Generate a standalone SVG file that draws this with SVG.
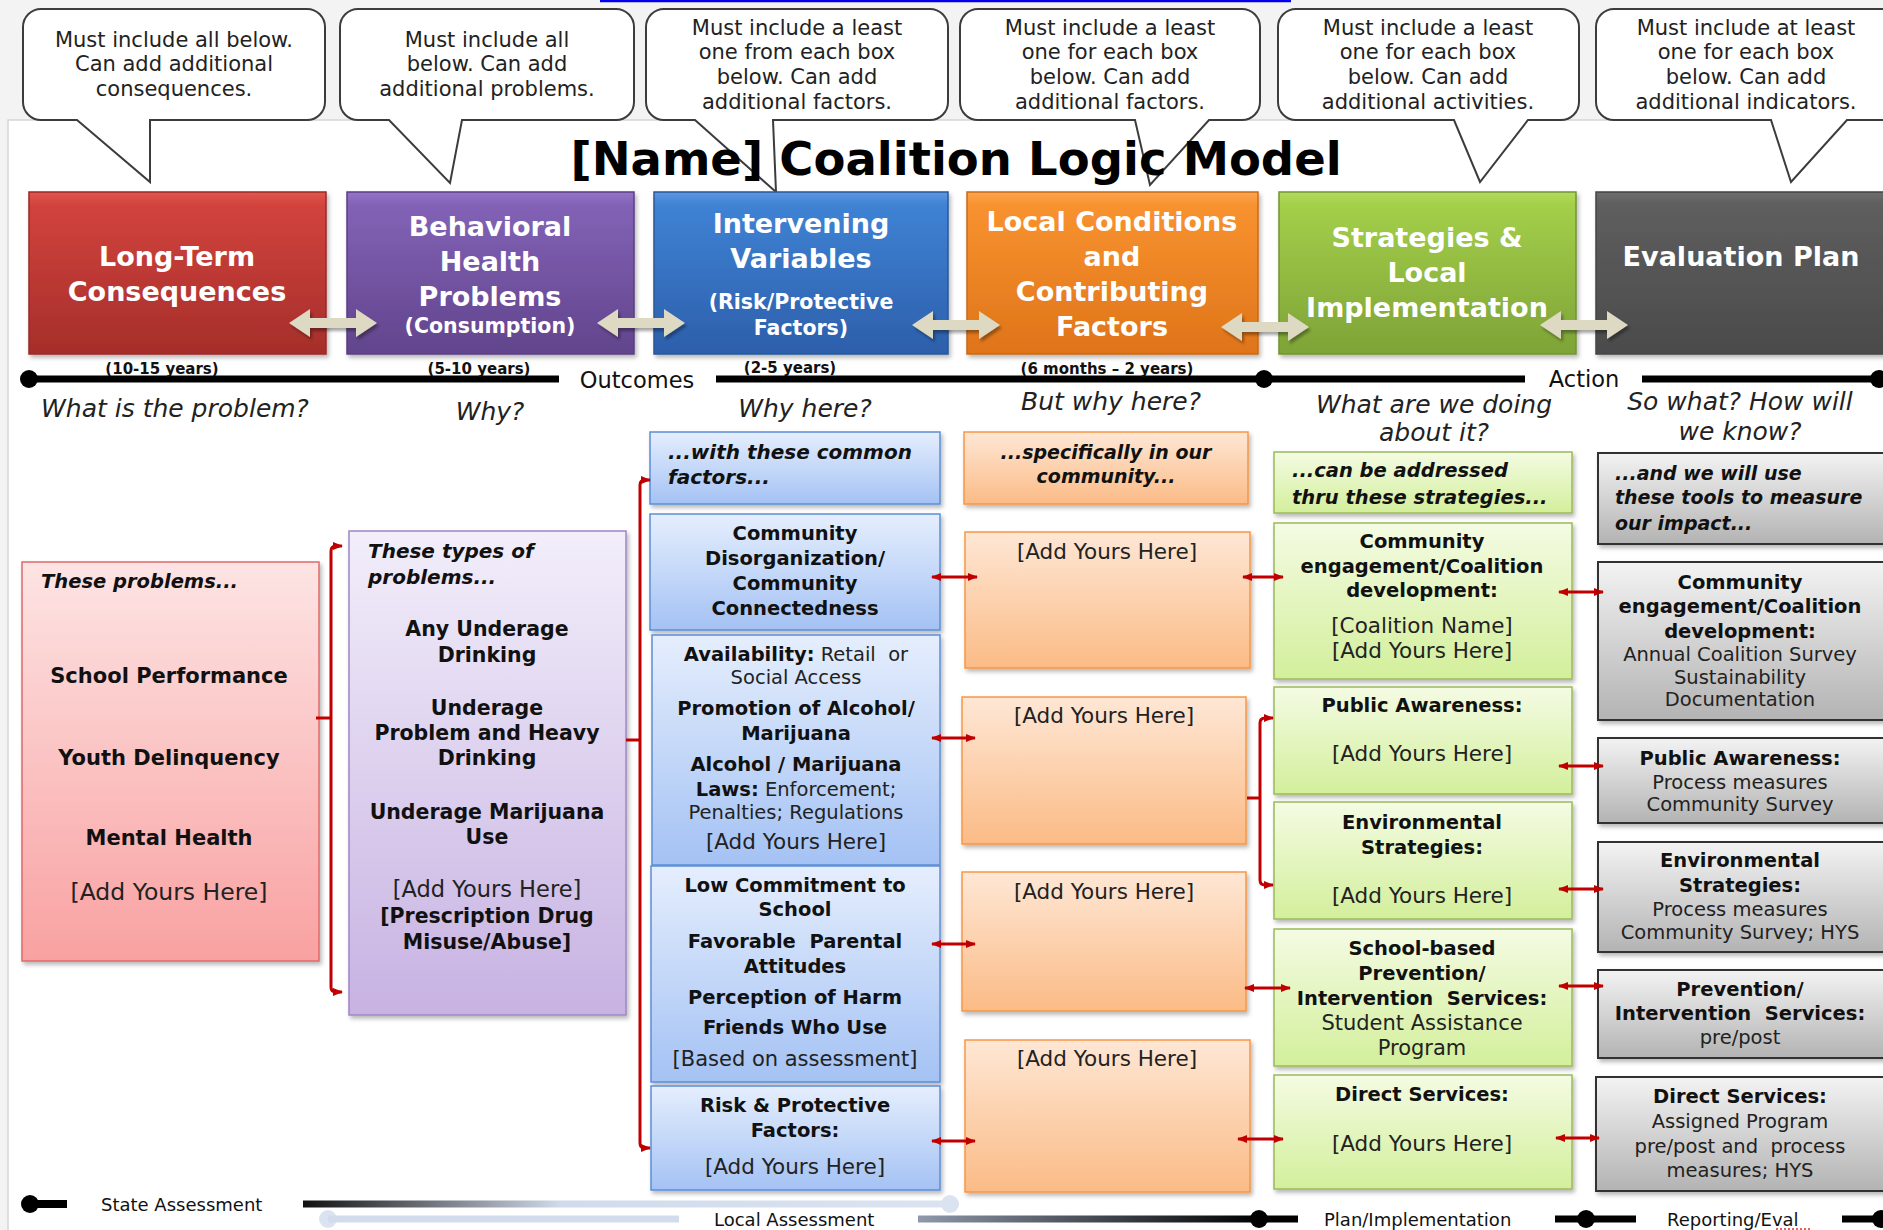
<svg xmlns="http://www.w3.org/2000/svg" width="1883" height="1230" viewBox="0 0 1883 1230">
<defs>
<style>
text{font-family:"DejaVu Sans","Liberation Sans",sans-serif;fill:#111}
.co{font-size:21px;text-anchor:middle;fill:#222}
.ti{font-size:46.5px;font-weight:bold;text-anchor:middle;fill:#000}
.hd{font-size:27px;font-weight:bold;text-anchor:middle;fill:#fff}
.hs{font-size:20.5px}
.yr{font-size:15px;font-weight:bold;text-anchor:middle;fill:#111}
.tl{font-size:22.5px;text-anchor:middle;fill:#111}
.q{font-size:25px;font-style:italic;text-anchor:middle;fill:#222}
.b{font-size:19.5px;font-weight:bold;text-anchor:middle}
.r{font-size:21px;text-anchor:middle;fill:#222}
.ay{font-size:21.5px}
.s{font-size:19.5px;text-anchor:middle;fill:#222}
.bi{font-size:19.5px;font-weight:bold;font-style:italic}
.bt{font-size:18px;fill:#111}
.n{font-weight:normal;fill:#222;font-size:19.5px}
.box{filter:url(#sh)}
.conn{stroke:#c00000;stroke-width:3;fill:none}
.dbl{marker-start:url(#ah);marker-end:url(#ah)}
.callout{fill:#fff;stroke:#3c3c3c;stroke-width:2}
</style>
<filter id="sh" x="-10%" y="-10%" width="125%" height="130%"><feDropShadow dx="2" dy="3" stdDeviation="2" flood-color="#000" flood-opacity="0.28"/></filter>
<filter id="sh2" x="-20%" y="-40%" width="140%" height="190%"><feDropShadow dx="2" dy="3" stdDeviation="1.5" flood-color="#000" flood-opacity="0.35"/></filter>
<marker id="ah" viewBox="0 0 10 10" refX="9" refY="5" markerWidth="10" markerHeight="10" markerUnits="userSpaceOnUse" orient="auto-start-reverse"><path d="M0,1 L10,5 L0,9 Z" fill="#c00000"/></marker>
<path id="barrow" d="M-44,0 L-23,-14 L-23,-5 L23,-5 L23,-14 L44,0 L23,14 L23,5 L-23,5 L-23,14 Z"/>
<linearGradient id="gRed" x1="0" y1="0" x2="0" y2="1"><stop offset="0" stop-color="#e0574f"/><stop offset="0.08" stop-color="#d2433d"/><stop offset="1" stop-color="#a52e2a"/></linearGradient>
<linearGradient id="gPur" x1="0" y1="0" x2="0" y2="1"><stop offset="0" stop-color="#9574c8"/><stop offset="0.08" stop-color="#8262b6"/><stop offset="1" stop-color="#62448c"/></linearGradient>
<linearGradient id="gBlu" x1="0" y1="0" x2="0" y2="1"><stop offset="0" stop-color="#5b98e0"/><stop offset="0.08" stop-color="#3f82d4"/><stop offset="1" stop-color="#2c5fab"/></linearGradient>
<linearGradient id="gOra" x1="0" y1="0" x2="0" y2="1"><stop offset="0" stop-color="#fba54e"/><stop offset="0.08" stop-color="#f8922f"/><stop offset="1" stop-color="#df7419"/></linearGradient>
<linearGradient id="gGrn" x1="0" y1="0" x2="0" y2="1"><stop offset="0" stop-color="#b2da5c"/><stop offset="0.08" stop-color="#a3cf4a"/><stop offset="1" stop-color="#7ea337"/></linearGradient>
<linearGradient id="gGry" x1="0" y1="0" x2="0" y2="1"><stop offset="0" stop-color="#6e6e6e"/><stop offset="0.08" stop-color="#5e5e5e"/><stop offset="1" stop-color="#4b4b4b"/></linearGradient>
<linearGradient id="lPink" x1="0" y1="0" x2="0" y2="1"><stop offset="0" stop-color="#fde4e4"/><stop offset="1" stop-color="#f9a1a1"/></linearGradient>
<linearGradient id="lPur" x1="0" y1="0" x2="0" y2="1"><stop offset="0" stop-color="#f2eefa"/><stop offset="1" stop-color="#c7b2e2"/></linearGradient>
<linearGradient id="lBlu" x1="0" y1="0" x2="0" y2="1"><stop offset="0" stop-color="#e5eefd"/><stop offset="1" stop-color="#a4c2f4"/></linearGradient>
<linearGradient id="lOra" x1="0" y1="0" x2="0" y2="1"><stop offset="0" stop-color="#fee7d5"/><stop offset="1" stop-color="#fbbb86"/></linearGradient>
<linearGradient id="lGrn" x1="0" y1="0" x2="0" y2="1"><stop offset="0" stop-color="#f4fbe3"/><stop offset="1" stop-color="#d3ef9b"/></linearGradient>
<linearGradient id="lGry" x1="0" y1="0" x2="0" y2="1"><stop offset="0" stop-color="#f3f3f3"/><stop offset="1" stop-color="#b3b3b3"/></linearGradient>
<linearGradient id="tg1" gradientUnits="userSpaceOnUse" x1="303" y1="0" x2="950" y2="0"><stop offset="0" stop-color="#111"/><stop offset="0.4" stop-color="#d1dbeb"/><stop offset="1" stop-color="#dbe3f1"/></linearGradient>
<linearGradient id="tg2" gradientUnits="userSpaceOnUse" x1="918" y1="0" x2="1259" y2="0"><stop offset="0" stop-color="#8f99ab"/><stop offset="1" stop-color="#000"/></linearGradient>
</defs>

<rect x="0" y="0" width="1883" height="1230" fill="#f3f3f3"/>
<rect x="8" y="120" width="1890" height="1120" fill="#fff" stroke="#d6d6d6" stroke-width="1.5"/>
<line x1="600" y1="1" x2="1291" y2="1" stroke="#0000ee" stroke-width="2.5"/>

<g id="callouts">
<g id="callout1"><path class="callout" d="M41,9 H307 A18,18 0 0 1 325,27 V102 A18,18 0 0 1 307,120 H150 L150,182 L77,120 H41 A18,18 0 0 1 23,102 V27 A18,18 0 0 1 41,9 Z"/>
<text class="co"><tspan x="174" y="47">Must include all below.</tspan><tspan x="174" y="71">Can add additional</tspan><tspan x="174" y="96">consequences.</tspan></text></g>
<g id="callout2"><path class="callout" d="M358,9 H616 A18,18 0 0 1 634,27 V102 A18,18 0 0 1 616,120 H462 L450,183 L389,120 H358 A18,18 0 0 1 340,102 V27 A18,18 0 0 1 358,9 Z"/>
<text class="co"><tspan x="487" y="47">Must include all</tspan><tspan x="487" y="71">below. Can add</tspan><tspan x="487" y="96">additional problems.</tspan></text></g>
<g id="callout3"><path class="callout" d="M664,9 H930 A18,18 0 0 1 948,27 V102 A18,18 0 0 1 930,120 H773 L776,192 L695,120 H664 A18,18 0 0 1 646,102 V27 A18,18 0 0 1 664,9 Z"/>
<text class="co"><tspan x="797" y="35">Must include a least</tspan><tspan x="797" y="59">one from each box</tspan><tspan x="797" y="84">below. Can add</tspan><tspan x="797" y="109">additional factors.</tspan></text></g>
<g id="callout4"><path class="callout" d="M978,9 H1242 A18,18 0 0 1 1260,27 V102 A18,18 0 0 1 1242,120 H1209 L1150,185 L1135,120 H978 A18,18 0 0 1 960,102 V27 A18,18 0 0 1 978,9 Z"/>
<text class="co"><tspan x="1110" y="35">Must include a least</tspan><tspan x="1110" y="59">one for each box</tspan><tspan x="1110" y="84">below. Can add</tspan><tspan x="1110" y="109">additional factors.</tspan></text></g>
<g id="callout5"><path class="callout" d="M1296,9 H1561 A18,18 0 0 1 1579,27 V102 A18,18 0 0 1 1561,120 H1528 L1480,182 L1454,120 H1296 A18,18 0 0 1 1278,102 V27 A18,18 0 0 1 1296,9 Z"/>
<text class="co"><tspan x="1428" y="35">Must include a least</tspan><tspan x="1428" y="59">one for each box</tspan><tspan x="1428" y="84">below. Can add</tspan><tspan x="1428" y="109">additional activities.</tspan></text></g>
<g id="callout6"><path class="callout" d="M1614,9 H1887 A18,18 0 0 1 1905,27 V102 A18,18 0 0 1 1887,120 H1847 L1791,182 L1771,120 H1614 A18,18 0 0 1 1596,102 V27 A18,18 0 0 1 1614,9 Z"/>
<text class="co"><tspan x="1746" y="35">Must include at least</tspan><tspan x="1746" y="59">one for each box</tspan><tspan x="1746" y="84">below. Can add</tspan><tspan x="1746" y="109">additional indicators.</tspan></text></g>
</g>

<text id="title" class="ti" x="956" y="175">[Name] Coalition Logic Model</text>

<g id="headers">
<g id="h-consequences"><rect class="box" x="29" y="192" width="297" height="162" fill="url(#gRed)" stroke="#9a2a26" stroke-width="1.5"/>
<text class="hd"><tspan x="177" y="266">Long-Term</tspan><tspan x="177" y="301">Consequences</tspan></text></g>
<g id="h-problems"><rect class="box" x="347" y="192" width="287" height="162" fill="url(#gPur)" stroke="#5a3f82" stroke-width="1.5"/>
<text class="hd"><tspan x="490" y="236">Behavioral</tspan><tspan x="490" y="271">Health</tspan><tspan x="490" y="306">Problems</tspan><tspan class="hs" x="490" y="333">(Consumption)</tspan></text></g>
<g id="h-intervening"><rect class="box" x="654" y="192" width="294" height="162" fill="url(#gBlu)" stroke="#2a579a" stroke-width="1.5"/>
<text class="hd"><tspan x="801" y="233">Intervening</tspan><tspan x="801" y="268">Variables</tspan><tspan class="hs" x="801" y="309">(Risk/Protective</tspan><tspan class="hs" x="801" y="335">Factors)</tspan></text></g>
<g id="h-local"><rect class="box" x="967" y="192" width="291" height="162" fill="url(#gOra)" stroke="#c96a18" stroke-width="1.5"/>
<text class="hd"><tspan x="1112" y="231">Local Conditions</tspan><tspan x="1112" y="266">and</tspan><tspan x="1112" y="301">Contributing</tspan><tspan x="1112" y="336">Factors</tspan></text></g>
<g id="h-strategies"><rect class="box" x="1279" y="192" width="297" height="162" fill="url(#gGrn)" stroke="#729532" stroke-width="1.5"/>
<text class="hd"><tspan x="1427" y="247">Strategies &amp;</tspan><tspan x="1427" y="282">Local</tspan><tspan x="1427" y="317">Implementation</tspan></text></g>
<g id="h-evaluation"><rect class="box" x="1596" y="192" width="300" height="162" fill="url(#gGry)" stroke="#444" stroke-width="1.5"/>
<text class="hd" x="1741" y="266">Evaluation Plan</text></g>
</g>

<g id="header-arrows" fill="#ddd9c3" filter="url(#sh2)">
<use href="#barrow" x="333" y="323"/>
<use href="#barrow" x="641" y="323"/>
<use href="#barrow" x="956" y="325"/>
<use href="#barrow" x="1265" y="327"/>
<use href="#barrow" x="1584" y="325"/>
</g>

<g id="timeline-top">
<line x1="29" y1="379" x2="559" y2="379" stroke="#000" stroke-width="7"/>
<line x1="716" y1="379" x2="1525" y2="379" stroke="#000" stroke-width="7"/>
<line x1="1642" y1="379" x2="1883" y2="379" stroke="#000" stroke-width="7"/>
<circle cx="29" cy="379" r="9" fill="#000"/>
<circle cx="1264" cy="379" r="9" fill="#000"/>
<circle cx="1879" cy="379" r="9" fill="#000"/>
<text class="tl" x="637" y="388">Outcomes</text>
<text class="tl" x="1584" y="387">Action</text>
<text class="yr" x="162" y="374">(10-15 years)</text>
<text class="yr" x="479" y="374">(5-10 years)</text>
<text class="yr" x="790" y="373">(2-5 years)</text>
<text class="yr" x="1107" y="374">(6 months – 2 years)</text>
</g>

<g id="questions">
<text class="q" x="175" y="417">What is the problem?</text>
<text class="q" x="490" y="420">Why?</text>
<text class="q" x="805" y="417">Why here?</text>
<text class="q" x="1111" y="410">But why here?</text>
<text class="q"><tspan x="1434" y="413">What are we doing</tspan><tspan x="1434" y="441">about it?</tspan></text>
<text class="q"><tspan x="1740" y="410">So what? How will</tspan><tspan x="1740" y="440">we know?</tspan></text>
</g>

<g id="consequences">
<rect class="box" x="22" y="562" width="297" height="399" fill="url(#lPink)" stroke="#e06a6a" stroke-width="1.5"/>
<text class="bi" x="41" y="588">These problems...</text>
<text class="b" style="font-size:21px"><tspan x="169" y="683">School Performance</tspan><tspan x="169" y="765">Youth Delinquency</tspan><tspan x="169" y="845">Mental Health</tspan></text>
<text class="r" style="font-size:23.5px" x="169" y="900">[Add Yours Here]</text>
</g>

<g id="problems">
<rect class="box" x="349" y="531" width="277" height="484" fill="url(#lPur)" stroke="#9d87c6" stroke-width="1.5"/>
<text class="bi" style="font-size:20px"><tspan x="368" y="558">These types of</tspan><tspan x="368" y="584">problems...</tspan></text>
<text class="b" style="font-size:20.5px"><tspan x="487" y="636">Any Underage</tspan><tspan x="487" y="662">Drinking</tspan><tspan x="487" y="715">Underage</tspan><tspan x="487" y="740">Problem and Heavy</tspan><tspan x="487" y="765">Drinking</tspan><tspan x="487" y="819">Underage Marijuana</tspan><tspan x="487" y="844">Use</tspan></text>
<text class="r" style="font-size:22.5px" x="487" y="897">[Add Yours Here]</text>
<text class="b" style="font-size:20.5px"><tspan x="487" y="923">[Prescription Drug</tspan><tspan x="487" y="949">Misuse/Abuse]</tspan></text>
</g>

<g id="factors-head">
<rect class="box" x="650" y="432" width="290" height="72" fill="url(#lBlu)" stroke="#5b8fd6" stroke-width="1.5"/>
<text class="bi" style="font-size:20px"><tspan x="668" y="459">...with these common</tspan><tspan x="668" y="484">factors...</tspan></text>
</g>
<g id="factor-community">
<rect class="box" x="650" y="514" width="290" height="116" fill="url(#lBlu)" stroke="#5b8fd6" stroke-width="1.5"/>
<text class="b"><tspan x="795" y="540">Community</tspan><tspan x="795" y="565">Disorganization/</tspan><tspan x="795" y="590">Community</tspan><tspan x="795" y="615">Connectedness</tspan></text>
</g>
<g id="factor-availability">
<rect class="box" x="652" y="635" width="288" height="230" fill="url(#lBlu)" stroke="#5b8fd6" stroke-width="1.5"/>
<text class="b" xml:space="preserve" x="796" y="661">Availability:<tspan class="n"> Retail  or</tspan></text>
<text class="s" x="796" y="684">Social Access</text>
<text class="b"><tspan x="796" y="715">Promotion of Alcohol/</tspan><tspan x="796" y="740">Marijuana</tspan><tspan x="796" y="771">Alcohol / Marijuana</tspan></text>
<text class="b" x="796" y="796">Laws:<tspan class="n"> Enforcement;</tspan></text>
<text class="s" x="796" y="819">Penalties; Regulations</text>
<text class="r ay" x="796" y="849">[Add Yours Here]</text>
</g>
<g id="factor-school">
<rect class="box" x="651" y="866" width="289" height="216" fill="url(#lBlu)" stroke="#5b8fd6" stroke-width="1.5"/>
<text class="b" xml:space="preserve"><tspan x="795" y="892">Low Commitment to</tspan><tspan x="795" y="916">School</tspan><tspan x="795" y="948">Favorable  Parental</tspan><tspan x="795" y="973">Attitudes</tspan><tspan x="795" y="1004">Perception of Harm</tspan><tspan x="795" y="1034">Friends Who Use</tspan></text>
<text class="r" x="795" y="1066">[Based on assessment]</text>
</g>
<g id="factor-risk">
<rect class="box" x="651" y="1086" width="289" height="104" fill="url(#lBlu)" stroke="#5b8fd6" stroke-width="1.5"/>
<text class="b"><tspan x="795" y="1112">Risk &amp; Protective</tspan><tspan x="795" y="1137">Factors:</tspan></text>
<text class="r ay" x="795" y="1174">[Add Yours Here]</text>
</g>

<g id="local-head">
<rect class="box" x="964" y="432" width="284" height="72" fill="url(#lOra)" stroke="#f79646" stroke-width="1.5"/>
<text class="bi" style="font-size:19px;text-anchor:middle"><tspan x="1106" y="459">...specifically in our</tspan><tspan x="1106" y="483">community...</tspan></text>
</g>
<g id="local-1"><rect class="box" x="965" y="532" width="285" height="136" fill="url(#lOra)" stroke="#f79646" stroke-width="1.5"/><text class="r ay" x="1107" y="559">[Add Yours Here]</text></g>
<g id="local-2"><rect class="box" x="962" y="697" width="284" height="147" fill="url(#lOra)" stroke="#f79646" stroke-width="1.5"/><text class="r ay" x="1104" y="723">[Add Yours Here]</text></g>
<g id="local-3"><rect class="box" x="962" y="872" width="284" height="139" fill="url(#lOra)" stroke="#f79646" stroke-width="1.5"/><text class="r ay" x="1104" y="899">[Add Yours Here]</text></g>
<g id="local-4"><rect class="box" x="965" y="1040" width="285" height="152" fill="url(#lOra)" stroke="#f79646" stroke-width="1.5"/><text class="r ay" x="1107" y="1066">[Add Yours Here]</text></g>

<g id="strategies-head">
<rect class="box" x="1274" y="452" width="298" height="61" fill="url(#lGrn)" stroke="#9bbb59" stroke-width="1.5"/>
<text class="bi"><tspan x="1292" y="477">...can be addressed</tspan><tspan x="1292" y="504">thru these strategies...</tspan></text>
</g>
<g id="strategy-community">
<rect class="box" x="1274" y="523" width="298" height="156" fill="url(#lGrn)" stroke="#9bbb59" stroke-width="1.5"/>
<text class="b"><tspan x="1422" y="548">Community</tspan><tspan x="1422" y="573">engagement/Coalition</tspan><tspan x="1422" y="597">development:</tspan></text>
<text class="r ay"><tspan x="1422" y="633">[Coalition Name]</tspan><tspan x="1422" y="658">[Add Yours Here]</tspan></text>
</g>
<g id="strategy-public">
<rect class="box" x="1274" y="687" width="298" height="107" fill="url(#lGrn)" stroke="#9bbb59" stroke-width="1.5"/>
<text class="b" x="1422" y="712">Public Awareness:</text>
<text class="r ay" x="1422" y="761">[Add Yours Here]</text>
</g>
<g id="strategy-environmental">
<rect class="box" x="1274" y="802" width="298" height="117" fill="url(#lGrn)" stroke="#9bbb59" stroke-width="1.5"/>
<text class="b"><tspan x="1422" y="829">Environmental</tspan><tspan x="1422" y="854">Strategies:</tspan></text>
<text class="r ay" x="1422" y="903">[Add Yours Here]</text>
</g>
<g id="strategy-school">
<rect class="box" x="1274" y="929" width="298" height="137" fill="url(#lGrn)" stroke="#9bbb59" stroke-width="1.5"/>
<text class="b" xml:space="preserve"><tspan x="1422" y="955">School-based</tspan><tspan x="1422" y="980">Prevention/</tspan><tspan x="1422" y="1005">Intervention  Services:</tspan></text>
<text class="r"><tspan x="1422" y="1030">Student Assistance</tspan><tspan x="1422" y="1055">Program</tspan></text>
</g>
<g id="strategy-direct">
<rect class="box" x="1274" y="1075" width="298" height="114" fill="url(#lGrn)" stroke="#9bbb59" stroke-width="1.5"/>
<text class="b" x="1422" y="1101">Direct Services:</text>
<text class="r ay" x="1422" y="1151">[Add Yours Here]</text>
</g>

<g id="eval-head">
<rect class="box" x="1598" y="453" width="290" height="91" fill="url(#lGry)" stroke="#333" stroke-width="2"/>
<text class="bi" style="font-size:19px"><tspan x="1615" y="480">...and we will use</tspan><tspan x="1615" y="504">these tools to measure</tspan><tspan x="1615" y="530">our impact...</tspan></text>
</g>
<g id="eval-community">
<rect class="box" x="1598" y="562" width="290" height="158" fill="url(#lGry)" stroke="#333" stroke-width="2"/>
<text class="b"><tspan x="1740" y="589">Community</tspan><tspan x="1740" y="613">engagement/Coalition</tspan><tspan x="1740" y="638">development:</tspan></text>
<text class="s"><tspan x="1740" y="661">Annual Coalition Survey</tspan><tspan x="1740" y="684">Sustainability</tspan><tspan x="1740" y="706">Documentation</tspan></text>
</g>
<g id="eval-public">
<rect class="box" x="1598" y="738" width="290" height="85" fill="url(#lGry)" stroke="#333" stroke-width="2"/>
<text class="b" x="1740" y="765">Public Awareness:</text>
<text class="s"><tspan x="1740" y="789">Process measures</tspan><tspan x="1740" y="811">Community Survey</tspan></text>
</g>
<g id="eval-environmental">
<rect class="box" x="1598" y="842" width="290" height="110" fill="url(#lGry)" stroke="#333" stroke-width="2"/>
<text class="b"><tspan x="1740" y="867">Environmental</tspan><tspan x="1740" y="892">Strategies:</tspan></text>
<text class="s"><tspan x="1740" y="916">Process measures</tspan><tspan x="1740" y="939">Community Survey; HYS</tspan></text>
</g>
<g id="eval-prevention">
<rect class="box" x="1598" y="970" width="290" height="88" fill="url(#lGry)" stroke="#333" stroke-width="2"/>
<text class="b" xml:space="preserve"><tspan x="1740" y="996">Prevention/</tspan><tspan x="1740" y="1020">Intervention  Services:</tspan></text>
<text class="s" x="1740" y="1044">pre/post</text>
</g>
<g id="eval-direct">
<rect class="box" x="1596" y="1077" width="292" height="114" fill="url(#lGry)" stroke="#333" stroke-width="2"/>
<text class="b" x="1740" y="1103">Direct Services:</text>
<text class="s" xml:space="preserve"><tspan x="1740" y="1128">Assigned Program</tspan><tspan x="1740" y="1153">pre/post and  process</tspan><tspan x="1740" y="1177">measures; HYS</tspan></text>
</g>

<g id="connectors">
<path class="conn" d="M316,718 H331"/>
<path class="conn dbl" d="M342,546 H336 Q331,546 331,551 V987 Q331,992 336,992 H342"/>
<path class="conn" d="M626,740 H640"/>
<path class="conn dbl" d="M650,480 H645 Q640,480 640,485 V1143 Q640,1148 645,1148 H650"/>
<path class="conn" d="M1247,798 H1260"/>
<path class="conn dbl" d="M1273,718 H1265 Q1260,718 1260,723 V880 Q1260,885 1265,885 H1273"/>
<line class="conn dbl" x1="932" y1="577" x2="977" y2="577"/>
<line class="conn dbl" x1="932" y1="738" x2="975" y2="738"/>
<line class="conn dbl" x1="932" y1="944" x2="975" y2="944"/>
<line class="conn dbl" x1="932" y1="1141" x2="975" y2="1141"/>
<line class="conn dbl" x1="1243" y1="577" x2="1283" y2="577"/>
<line class="conn dbl" x1="1245" y1="988" x2="1290" y2="988"/>
<line class="conn dbl" x1="1238" y1="1139" x2="1283" y2="1139"/>
<line class="conn dbl" x1="1559" y1="592" x2="1603" y2="592"/>
<line class="conn dbl" x1="1559" y1="766" x2="1603" y2="766"/>
<line class="conn dbl" x1="1559" y1="889" x2="1603" y2="889"/>
<line class="conn dbl" x1="1559" y1="986" x2="1603" y2="986"/>
<line class="conn dbl" x1="1556" y1="1138" x2="1599" y2="1138"/>
</g>

<g id="timeline-bottom">
<line x1="30" y1="1204" x2="67" y2="1204" stroke="#000" stroke-width="8"/>
<circle cx="30" cy="1204" r="9" fill="#000"/>
<text class="bt" x="101" y="1211">State Assessment</text>
<line x1="303" y1="1204" x2="950" y2="1204" stroke="url(#tg1)" stroke-width="7"/>
<circle cx="950" cy="1204" r="9" fill="#dbe3f1"/>
<circle cx="328" cy="1219" r="9" fill="#dbe3f1"/>
<line x1="328" y1="1219" x2="679" y2="1219" stroke="#d3dcec" stroke-width="7"/>
<text class="bt" x="714" y="1226">Local Assessment</text>
<line x1="918" y1="1219" x2="1259" y2="1219" stroke="url(#tg2)" stroke-width="7"/>
<line x1="1259" y1="1219" x2="1298" y2="1219" stroke="#000" stroke-width="7"/>
<circle cx="1259" cy="1219" r="9" fill="#000"/>
<text class="bt" x="1324" y="1226">Plan/Implementation</text>
<line x1="1555" y1="1219" x2="1636" y2="1219" stroke="#000" stroke-width="7"/>
<circle cx="1586" cy="1219" r="9" fill="#000"/>
<text class="bt" x="1667" y="1226">Reporting/Eval</text>
<line x1="1776" y1="1229" x2="1810" y2="1229" stroke="#e03030" stroke-width="1.5" stroke-dasharray="2,2"/>
<line x1="1842" y1="1219" x2="1883" y2="1219" stroke="#000" stroke-width="7"/>
<circle cx="1881" cy="1219" r="9" fill="#000"/>
</g>
</svg>
